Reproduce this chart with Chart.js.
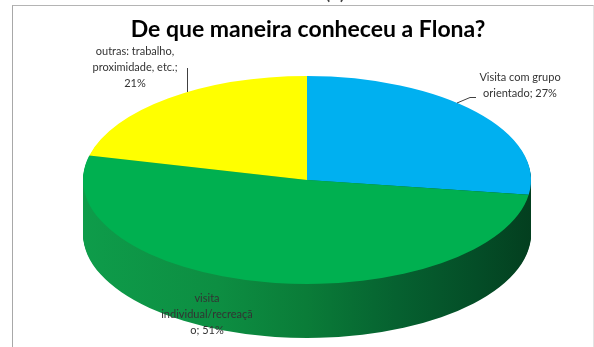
<!DOCTYPE html>
<html lang="pt">
<head>
<meta charset="UTF-8">
<title>De que maneira conheceu a Flona?</title>
<script src="https://cdn.jsdelivr.net/npm/chart.js"></script>
<style>
  html, body { margin: 0; padding: 0; background: #fff; overflow: hidden; }
  #moldura {
    position: absolute; left: 12px; top: 5px; width: 580px; height: 360px;
    border-top: 1px solid #b4b4b4; border-left: 1px solid #a8a8a8; border-right: 1px solid #e4e4e4;
  }
  #grafico { position: absolute; left: 0; top: 0; }
</style>
</head>
<body>
<div id="moldura"></div>
<canvas id="grafico" width="594" height="347"></canvas>
<script>
const titulo = 'De que maneira conheceu a Flona?';
const categorias = ['Visita com grupo orientado', 'visita individual/recreação', 'outras: trabalho, proximidade, etc.'];
const percentuais = [27, 51, 21];
const cores = ['#00B0F0', '#00B050', '#FFFF00'];

// rótulos quebrados em linhas como na planilha
const linhasRotulo = [
  ['Visita com grupo', 'orientado; ' + percentuais[0] + '%'],
  ['visita', 'individual/recreaçã', 'o; ' + percentuais[1] + '%'],
  ['outras: trabalho,', 'proximidade, etc.;', percentuais[2] + '%']
];

// elipse da face superior e espessura da pizza
const geo = { cx: 307, cy: 180, rx: 224, ry: 104, depth: 54 };

const pizza3d = {
  id: 'pizza3d',
  beforeDatasetsDraw(chart) {
    const ctx = chart.ctx;
    const arcs = chart.getDatasetMeta(0).data;
    const { x, y, outerRadius: r } = arcs[0];
    const sx = geo.rx / r, sy = geo.ry / r;

    const lateral = ctx.createLinearGradient(x - r, 0, x + r, 0);
    lateral.addColorStop(0, '#0e9c4a');
    lateral.addColorStop(0.3, '#0d8e42');
    lateral.addColorStop(0.5, '#0a7c38');
    lateral.addColorStop(0.7, '#066130');
    lateral.addColorStop(0.88, '#044d27');
    lateral.addColorStop(1, '#033f1f');

    // lateral: camadas empilhadas de baixo para cima
    for (let d = geo.depth; d > 0; d--) {
      ctx.save();
      ctx.translate(geo.cx, geo.cy + d);
      ctx.scale(sx, sy);
      ctx.translate(-x, -y);
      arcs.forEach(a => {
        const lado = Object.create(a);
        lado.options = Object.assign({}, a.options, { backgroundColor: lateral });
        lado.draw(ctx);
      });
      ctx.restore();
    }

    // face superior desenhada pelo próprio Chart.js com a mesma transformação
    ctx.save();
    ctx.translate(geo.cx, geo.cy);
    ctx.scale(sx, sy);
    ctx.translate(-x, -y);
  },
  afterDatasetsDraw(chart) {
    chart.ctx.restore();
  },
  afterDraw(chart) {
    const ctx = chart.ctx;
    ctx.save();

    // resto do "(c)" cortado no topo
    ctx.fillStyle = '#404040';
    ctx.font = '22px Lato';
    ctx.textAlign = 'center';
    ctx.textBaseline = 'alphabetic';
    ctx.fillText('(c)', 335, -1);

    ctx.fillStyle = '#000';
    ctx.font = 'bold 23px Lato';
    ctx.fillText(titulo, 308, 37);

    // linhas de chamada
    ctx.strokeStyle = '#404040';
    ctx.lineWidth = 1;
    ctx.beginPath();
    ctx.moveTo(187.5, 68); ctx.lineTo(187.5, 92);
    ctx.moveTo(457, 103); ctx.lineTo(470, 97.5); ctx.lineTo(476, 97.5);
    ctx.stroke();

    ctx.fillStyle = '#333';
    ctx.font = '11px Lato';
    ctx.textBaseline = 'middle';
    const pos = [
      { x: 520, y: 77 },
      { x: 207, y: 298 },
      { x: 135, y: 51 }
    ];
    linhasRotulo.forEach((linhas, i) => {
      linhas.forEach((t, k) => ctx.fillText(t, pos[i].x, pos[i].y + k * 16));
    });
    ctx.restore();
  }
};

new Chart(document.getElementById('grafico'), {
  type: 'pie',
  data: {
    labels: categorias,
    datasets: [{
      data: percentuais,
      backgroundColor: cores,
      borderWidth: 0
    }]
  },
  options: {
    responsive: false,
    animation: false,
    events: [],
    plugins: {
      legend: { display: false },
      tooltip: { enabled: false }
    }
  },
  plugins: [pizza3d]
});
</script>
</body>
</html>
